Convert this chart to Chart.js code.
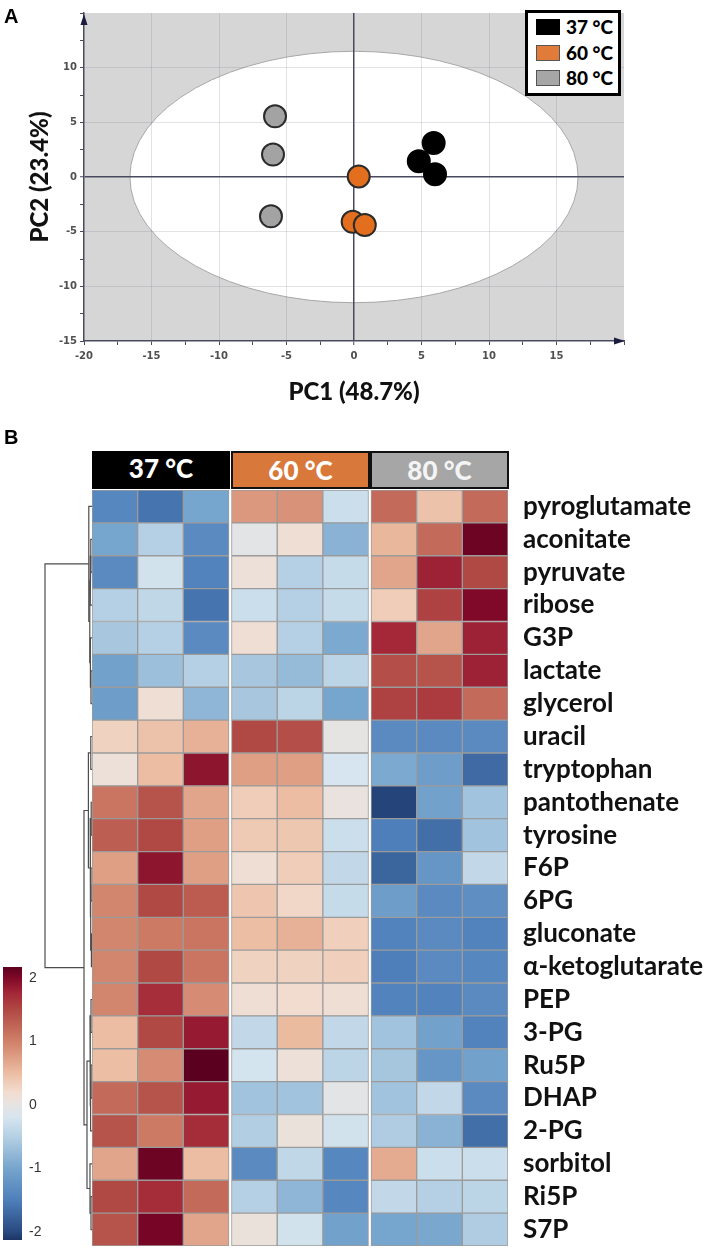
<!DOCTYPE html>
<html>
<head>
<meta charset="utf-8">
<script src="https://cdn.jsdelivr.net/npm/chart.js@4.4.1/dist/chart.umd.min.js"></script>
<style>
  body { margin: 0; background: #fff; }
  #page { position: relative; width: 715px; height: 1250px; overflow: hidden; font-family: Lato, sans-serif; }
  #page canvas, .abs { position: absolute; }
  .tag { font: bold 20px "Liberation Sans", Arial, sans-serif; color: #000; }
  #legend { left: 525px; top: 10px; width: 96px; height: 86px; box-sizing: border-box; border: 3px solid #000; background: #fff; }
  #legend .sw { position: absolute; left: 8px; width: 24px; height: 16px; box-sizing: border-box; }
  #legend .lb { position: absolute; left: 38px; font: 900 19px Lato, sans-serif; line-height: 16px; color: #000; white-space: nowrap; }
  .head { top: 451px; height: 38px; box-sizing: border-box; text-align: center; font: 900 26px Lato, sans-serif; line-height: 34px; color: #fff; }
</style>
</head>
<body>
<div id="page">
  <canvas id="pca" width="715" height="420" style="left:0;top:0"></canvas>
  <canvas id="tree" width="92" height="800" style="left:0;top:450px"></canvas>
  <canvas id="heat" width="623" height="800" style="left:92px;top:450px"></canvas>
  <canvas id="ramp" width="60" height="310" style="left:0;top:940px"></canvas>

  <div class="abs tag" style="left:4px;top:5px">A</div>
  <div class="abs tag" style="left:4px;top:426px">B</div>

  <div id="legend" class="abs">
    <div class="sw" style="top:6px;background:#000"></div><div class="lb" style="top:6px">37 °C</div>
    <div class="sw" style="top:32px;background:#e07b39;border:1px solid #555"></div><div class="lb" style="top:32px">60 °C</div>
    <div class="sw" style="top:57px;background:#a6a6a6;border:1px solid #555"></div><div class="lb" style="top:57px">80 °C</div>
  </div>

  <div class="abs head" style="left:92px;width:138px;background:#000">37 °C</div>
  <div class="abs head" style="left:231px;width:139px;background:#d8783a;border:2.5px solid #111">60 °C</div>
  <div class="abs head" style="left:370px;width:139px;background:#a6a6a6;border:2.5px solid #111;color:#f4f4f4">80 °C</div>
</div>

<script>
// ---- panel A: PCA scores ----
const pcaGroups = ['37 °C', '60 °C', '80 °C'];
const pc37 = [[5.9, 3.1], [4.8, 1.45], [6.0, 0.25]];
const pc60 = [[0.35, 0.05], [-0.1, -4.1], [0.8, -4.4]];
const pc80 = [[-5.85, 5.55], [-6.0, 2.05], [-6.15, -3.6]];
const pcaXLabels = [-20, -15, -10, -5, 0, 5, 10, 15];
const pcaYLabels = [-15, -10, -5, 0, 5, 10];
// Hotelling T2 ellipse: centre and semi-axes in score units
const t2Ellipse = { cx: 0, cy: 0, rx: 16.6, ry: 11.5 };

// ---- panel B: heatmap ----
const metabolites = ['pyroglutamate', 'aconitate', 'pyruvate', 'ribose', 'G3P', 'lactate', 'glycerol',
  'uracil', 'tryptophan', 'pantothenate', 'tyrosine', 'F6P', '6PG', 'gluconate', 'α-ketoglutarate',
  'PEP', '3-PG', 'Ru5P', 'DHAP', '2-PG', 'sorbitol', 'Ri5P', 'S7P'];
const z37 = [
  [-1.4, -1.6, -1.0], [-1.0, -0.5, -1.35], [-1.35, -0.25, -1.45], [-0.5, -0.4, -1.6],
  [-0.6, -0.5, -1.35], [-1.05, -0.7, -0.5], [-1.1, 0.15, -0.8], [0.3, 0.45, 0.6],
  [0.1, 0.5, 1.9], [1.1, 1.4, 0.7], [1.3, 1.5, 0.75], [0.75, 1.9, 0.75],
  [0.95, 1.5, 1.32], [0.95, 1.05, 1.1], [0.95, 1.5, 1.1], [0.95, 1.7, 0.9],
  [0.5, 1.5, 1.85], [0.48, 0.9, 2.2], [1.2, 1.4, 1.85], [1.4, 1.05, 1.72],
  [0.7, 2.1, 0.5], [1.5, 1.72, 1.2], [1.4, 2.05, 0.7]
];
const z60 = [
  [0.8, 0.85, -0.3], [-0.05, 0.15, -0.85], [0.1, -0.5, -0.35], [-0.3, -0.5, -0.35],
  [0.15, -0.5, -0.95], [-0.6, -0.75, -0.45], [-0.6, -0.45, -1.0], [1.5, 1.45, 0.0],
  [0.75, 0.75, -0.2], [0.35, 0.5, 0.05], [0.38, 0.4, -0.3], [0.15, 0.35, -0.38],
  [0.42, 0.25, -0.35], [0.48, 0.6, 0.32], [0.3, 0.3, 0.32], [0.15, 0.2, 0.15],
  [-0.38, 0.52, -0.38], [-0.22, 0.1, -0.45], [-0.65, -0.65, -0.05], [-0.52, 0.08, -0.25],
  [-1.35, -0.4, -1.4], [-0.5, -0.8, -1.4], [0.08, -0.25, -1.05]
];
const z80 = [
  [1.2, 0.45, 1.2], [0.55, 1.2, 2.1], [0.7, 1.8, 1.5], [0.35, 1.55, 2.0],
  [1.75, 0.7, 1.8], [1.45, 1.4, 1.8], [1.55, 1.6, 1.2], [-1.35, -1.35, -1.35],
  [-0.95, -1.1, -1.7], [-2.05, -1.05, -0.65], [-1.5, -1.65, -0.65], [-1.75, -1.2, -0.38],
  [-1.1, -1.35, -1.3], [-1.45, -1.35, -1.45], [-1.5, -1.35, -1.4], [-1.45, -1.45, -1.35],
  [-0.65, -1.05, -1.45], [-0.62, -1.2, -1.05], [-0.65, -0.38, -1.35], [-0.55, -0.85, -1.65],
  [0.65, -0.3, -0.3], [-0.38, -0.5, -0.45], [-1.0, -0.98, -0.55]
];
const rampTicks = [-2, -1, 0, 1, 2];
const rampRange = [-2.13, 2.17];

// row dendrogram, hclust style: negative = leaf row (1-based), positive = earlier merge
const rowMerges = [
  [-2, -3, 0.12], [1, -4, 0.18], [-6, -7, 0.1], [-5, 3, 0.16], [2, 4, 0.22], [-1, 5, 0.32],
  [-8, -9, 0.12], [-10, -11, 0.08], [-12, -13, 0.1], [-14, -15, 0.06], [9, 10, 0.13], [8, 11, 0.18],
  [7, 12, 0.36], [-16, -17, 0.1], [-18, -19, 0.09], [15, -20, 0.14], [14, 16, 0.2],
  [-22, -23, 0.1], [-21, 18, 0.2], [17, 19, 0.5], [13, 20, 0.8], [6, 21, 4.7]
];

// colour ramp (blue - white - red)
const zStops = [
  [-2.2, '#1c3566'], [-2.0, '#284a80'], [-1.5, '#4e7fba'], [-1.0, '#76a5cd'],
  [-0.5, '#b5d0e4'], [-0.2, '#d6e5ef'], [0, '#e6e4e3'], [0.2, '#f2dccf'],
  [0.5, '#ecbda2'], [1.0, '#d08068'], [1.5, '#b04844'], [1.75, '#a42838'],
  [2.0, '#800828'], [2.2, '#5c0020']
];

Chart.defaults.font.family = 'Lato';
Chart.defaults.animation = false;

function hex(c) { return [1, 3, 5].map(i => parseInt(c.substr(i, 2), 16)); }
function zColor(v) {
  if (v <= zStops[0][0]) return zStops[0][1];
  for (let i = 1; i < zStops.length; i++) {
    const [v1, c1] = zStops[i];
    if (v <= v1) {
      const [v0, c0] = zStops[i - 1];
      const t = (v - v0) / (v1 - v0), a = hex(c0), b = hex(c1);
      return 'rgb(' + a.map((x, k) => Math.round(x + (b[k] - x) * t)).join(',') + ')';
    }
  }
  return zStops[zStops.length - 1][1];
}

// ---------- PCA score plot ----------
const axisInk = '#4a4a5e';
const pcaFill = ['#000000', '#e36f1e', '#a3a3a3'];
const pcaEdge = ['#000000', '#2b2b2b', '#2b2b2b'];

const pcaBackdrop = {
  id: 'pcaBackdrop',
  beforeDraw(chart) {
    const { ctx, chartArea: a, scales: { x, y } } = chart;
    ctx.save();
    ctx.fillStyle = '#d6d6d6';
    ctx.fillRect(a.left, a.top, a.width, a.height);
    const cx = x.getPixelForValue(t2Ellipse.cx), cy = y.getPixelForValue(t2Ellipse.cy);
    const rx = Math.abs(x.getPixelForValue(t2Ellipse.cx + t2Ellipse.rx) - cx);
    const ry = Math.abs(y.getPixelForValue(t2Ellipse.cy + t2Ellipse.ry) - cy);
    ctx.beginPath();
    ctx.ellipse(cx, cy, rx, ry, 0, 0, Math.PI * 2);
    ctx.fillStyle = '#fff';
    ctx.fill();
    ctx.strokeStyle = '#a8a8a8';
    ctx.lineWidth = 1;
    ctx.stroke();
    ctx.restore();
  },
  beforeDatasetsDraw(chart) {
    // axis arrow heads
    const { ctx, chartArea: a } = chart;
    ctx.save();
    ctx.fillStyle = '#1c1c40';
    ctx.beginPath();
    ctx.moveTo(a.left, a.top + 1); ctx.lineTo(a.left - 3.5, a.top + 12); ctx.lineTo(a.left + 3.5, a.top + 12);
    ctx.fill();
    ctx.beginPath();
    ctx.moveTo(a.right + 1, a.bottom); ctx.lineTo(a.right - 10, a.bottom - 3.5); ctx.lineTo(a.right - 10, a.bottom + 3.5);
    ctx.fill();
    ctx.restore();
  }
};

function pcaGrid(labels, hideAbove) {
  return {
    color: c => {
      const v = c.tick.value;
      if (v === 0) return axisInk;
      if (v % 5 !== 0 || v >= hideAbove || v === labels[0]) return 'rgba(0,0,0,0)';
      return 'rgba(110,110,135,0.2)';
    },
    lineWidth: c => (c.tick.value === 0 ? 1.5 : 1),
    tickColor: axisInk,
    tickWidth: 1,
    tickLength: 4,
    drawTicks: true
  };
}
const tickFont = { family: 'DejaVu Sans', weight: 'bold', size: 10 };
const titleFont = { family: 'Lato', weight: '900', size: 24 };

new Chart(document.getElementById('pca'), {
  type: 'scatter',
  data: {
    datasets: [pc37, pc60, pc80].map((pts, i) => ({
      label: pcaGroups[i],
      data: pts.map(([x, y]) => ({ x, y })),
      backgroundColor: pcaFill[i],
      borderColor: pcaEdge[i],
      borderWidth: 2,
      pointRadius: 11,
      pointHoverRadius: 11
    }))
  },
  options: {
    responsive: false,
    layout: { padding: { left: 0, right: 91, top: 9, bottom: 0 } },
    plugins: { legend: { display: false }, tooltip: { enabled: false } },
    scales: {
      x: {
        type: 'linear', min: -20, max: 20,
        ticks: { stepSize: 2.5, autoSkip: false, maxRotation: 0, padding: 5, color: '#505050', font: tickFont,
          callback: v => (pcaXLabels.includes(v) ? String(v) : '') },
        grid: pcaGrid(pcaXLabels, 20),
        border: { display: true, color: axisInk, width: 1.5 },
        title: { display: true, text: 'PC1 (48.7%)', color: '#111', font: titleFont, padding: { top: 0, bottom: 13 } },
        afterFit: s => { s.height = 79; }
      },
      y: {
        type: 'linear', min: -15, max: 15,
        ticks: { stepSize: 2.5, autoSkip: false, padding: 3, color: '#505050', font: tickFont,
          callback: v => (pcaYLabels.includes(v) ? String(v) : '') },
        grid: pcaGrid(pcaYLabels, 15),
        border: { display: true, color: axisInk, width: 1.5 },
        title: { display: true, text: 'PC2 (23.4%)', color: '#111', font: titleFont, padding: { top: 26, bottom: 0 } },
        afterFit: s => { s.width = 84; s.paddingTop = 0; s.paddingBottom = 0; }
      }
    }
  },
  plugins: [pcaBackdrop]
});

// ---------- heatmap ----------
const groupGap = 0.055;
const heatCols = [];
[z37, z60, z80].forEach((grp, g) => {
  for (let c = 0; c < 3; c++) heatCols.push({ g, vals: grp.map(r => r[c]) });
});
const heatPad = { left: 0, right: 0, top: 40, bottom: 4 };

new Chart(document.getElementById('heat'), {
  type: 'bar',
  data: {
    labels: metabolites,
    datasets: heatCols.map((col, j) => ({
      data: metabolites.map(() => [j + col.g * groupGap, j + 1 + col.g * groupGap]),
      backgroundColor: col.vals.map(zColor),
      borderColor: '#9b9b9b',
      borderWidth: 1,
      borderSkipped: false,
      barPercentage: 1,
      categoryPercentage: 1,
      grouped: false
    }))
  },
  options: {
    indexAxis: 'y',
    responsive: false,
    layout: { padding: heatPad },
    plugins: { legend: { display: false }, tooltip: { enabled: false } },
    scales: {
      x: { type: 'linear', min: 0, max: 9 + 2 * groupGap, display: false },
      y: {
        type: 'category', position: 'right', offset: true,
        grid: { display: false, drawTicks: false },
        border: { display: false },
        ticks: { autoSkip: false, padding: 15, color: '#111', font: { family: 'Lato', weight: 'bold', size: 26 } },
        afterFit: s => { s.width = 207; s.paddingTop = 0; s.paddingBottom = 0; }
      }
    }
  }
});

// ---------- row dendrogram ----------
function treeSegments() {
  const nodes = [];
  const get = ref => (ref < 0 ? { y: -ref - 0.5, h: 0 } : nodes[ref - 1]);
  return rowMerges.map(([a, b, h]) => {
    const A = get(a), B = get(b);
    nodes.push({ y: (A.y + B.y) / 2, h });
    return [{ x: A.h, y: A.y }, { x: h, y: A.y }, { x: h, y: B.y }, { x: B.h, y: B.y }];
  });
}

new Chart(document.getElementById('tree'), {
  type: 'scatter',
  data: {
    datasets: treeSegments().map(seg => ({
      data: seg, showLine: true, pointRadius: 0, borderColor: '#4d4d4d', borderWidth: 1.2, clip: false
    }))
  },
  options: {
    responsive: false,
    layout: { padding: heatPad },
    plugins: { legend: { display: false }, tooltip: { enabled: false } },
    scales: {
      x: { type: 'linear', min: 0, max: 9.2, reverse: true, display: false },
      y: { type: 'linear', min: 0, max: metabolites.length, reverse: true, display: false }
    }
  }
});

// ---------- colour key ----------
function rampGradient(chart) {
  const { ctx, chartArea, scales } = chart;
  if (!chartArea) return '#ccc';
  const y = scales.y;
  const g = ctx.createLinearGradient(0, y.getPixelForValue(rampRange[0]), 0, y.getPixelForValue(rampRange[1]));
  const span = rampRange[1] - rampRange[0];
  zStops.forEach(([v, c]) => g.addColorStop(Math.min(1, Math.max(0, (v - rampRange[0]) / span)), c));
  return g;
}

new Chart(document.getElementById('ramp'), {
  type: 'bar',
  data: {
    labels: ['z'],
    datasets: [{ data: [rampRange], backgroundColor: c => rampGradient(c.chart), borderWidth: 0, barPercentage: 1, categoryPercentage: 1 }]
  },
  options: {
    responsive: false,
    layout: { padding: { left: 3, right: 0, top: 27, bottom: 10 } },
    plugins: { legend: { display: false }, tooltip: { enabled: false } },
    scales: {
      x: { display: false },
      y: {
        type: 'linear', position: 'right', min: rampRange[0], max: rampRange[1],
        afterBuildTicks: s => { s.ticks = rampTicks.map(value => ({ value })); },
        grid: { display: false, drawTicks: false },
        border: { display: false },
        ticks: { padding: 7, color: '#333', font: { family: 'Liberation Sans', size: 14 } },
        afterFit: s => { s.width = 38; s.paddingTop = 0; s.paddingBottom = 0; }
      }
    }
  }
});
</script>
</body>
</html>
